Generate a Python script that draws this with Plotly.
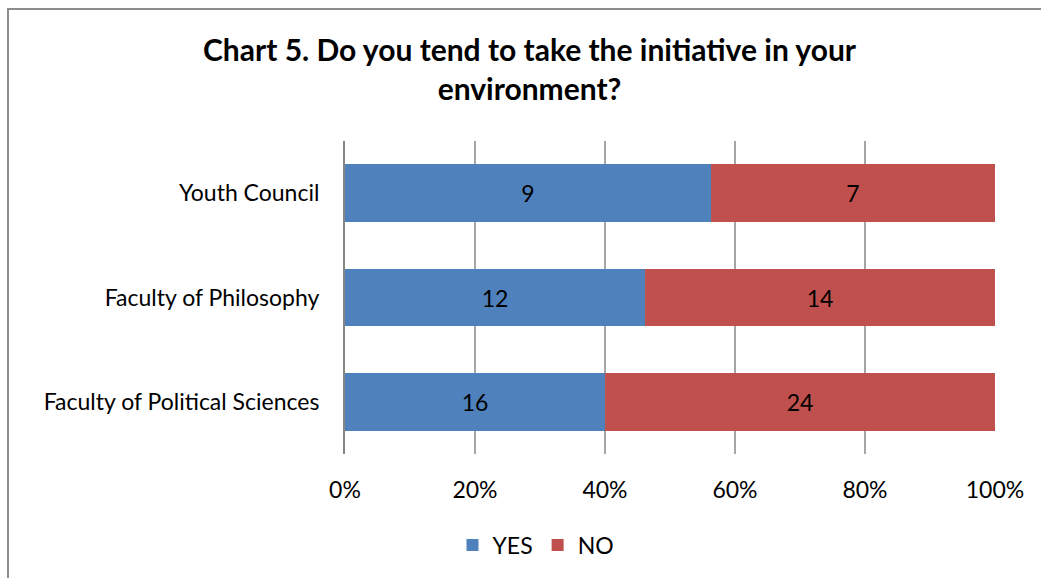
import plotly.graph_objects as go

categories = ["Youth Council", "Faculty of Philosophy", "Faculty of Political Sciences"]
yes_values = [9, 12, 16]
no_values = [7, 14, 24]
tick_vals = [0, 20, 40, 60, 80, 100]
tick_text = ["0%", "20%", "40%", "60%", "80%", "100%"]

FONT = "Lato"
W, H = 1041, 578
FS = 23

fig = go.Figure()
fig.add_trace(go.Bar(
    name="YES", y=categories, x=yes_values, orientation="h",
    marker=dict(color="#4F81BD", line=dict(width=0)),
    text=[str(v) for v in yes_values], textposition="inside",
    insidetextanchor="middle", textangle=0,
    textfont=dict(family=FONT, size=FS, color="black"),
    hoverinfo="skip",
))
fig.add_trace(go.Bar(
    name="NO", y=categories, x=no_values, orientation="h",
    marker=dict(color="#C0504D", line=dict(width=0)),
    text=[str(v) for v in no_values], textposition="inside",
    insidetextanchor="middle", textangle=0,
    textfont=dict(family=FONT, size=FS, color="black"),
    hoverinfo="skip",
))

fig.update_layout(
    width=W, height=H,
    barmode="stack", barnorm="percent", bargap=0.45,
    margin=dict(l=0, r=0, t=0, b=0, autoexpand=False),
    paper_bgcolor="white", plot_bgcolor="white",
    font=dict(family=FONT, size=FS, color="black"),
    xaxis=dict(
        domain=[345 / W, 995 / W], range=[0, 100], automargin=False,
        tickvals=tick_vals, ticktext=tick_text,
        showgrid=True, gridcolor="#A6A6A6", gridwidth=1.5,
        zeroline=False, showline=False, ticks="",
        ticklabelstandoff=20, fixedrange=True,
        tickfont=dict(family=FONT, size=FS, color="black"),
    ),
    yaxis=dict(
        domain=[1 - 454 / H, 1 - 141 / H], autorange="reversed", automargin=False,
        showgrid=False, showline=True, linecolor="#868686", linewidth=2,
        ticks="", ticklabelstandoff=19, fixedrange=True,
        tickfont=dict(family=FONT, size=FS, color="black"),
    ),
    legend=dict(
        orientation="h", x=536 / W, xanchor="center", y=1 - 545 / H, yanchor="middle",
        font=dict(family=FONT, size=FS, color="black"),
        traceorder="normal", itemwidth=30,
    ),
    annotations=[dict(
        text="<b>Chart 5. Do you tend to take the initiative in your<br>environment?</b>",
        xref="paper", yref="paper", x=530 / W, y=1 - 69 / H,
        xanchor="center", yanchor="middle", showarrow=False,
        font=dict(family=FONT, size=30, color="black"),
    )],
    shapes=[dict(
        type="rect", xref="paper", yref="paper",
        x0=8 / W, x1=1.05, y0=-0.05, y1=1 - 9 / H,
        line=dict(color="#8C8C8C", width=2), fillcolor="rgba(0,0,0,0)",
        layer="below",
    )],
)

fig.write_html("out.html")
